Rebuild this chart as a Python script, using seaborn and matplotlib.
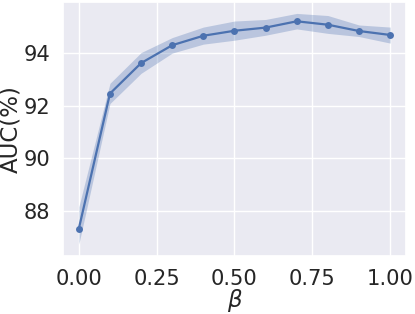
import matplotlib
matplotlib.use("Agg")
import matplotlib.pyplot as plt
import seaborn as sns
import pandas as pd

# beta-Werte und AUC (Mittelwert + Band)
beta = [0.0, 0.1, 0.2, 0.3, 0.4, 0.5, 0.6, 0.7, 0.8, 0.9, 1.0]
auc_mean = [87.32, 92.46, 93.62, 94.30, 94.66, 94.85, 94.97, 95.21, 95.08, 94.84, 94.69]
auc_lower = [86.73, 92.08, 93.23, 94.00, 94.34, 94.49, 94.68, 94.92, 94.75, 94.63, 94.38]
auc_upper = [88.15, 92.85, 94.02, 94.59, 94.99, 95.22, 95.28, 95.51, 95.43, 95.07, 94.99]

sns.set_theme(style="darkgrid", font_scale=1.375)

df = pd.DataFrame({"beta": beta, "AUC": auc_mean})

fig, ax = plt.subplots(figsize=(4.15, 3.14), dpi=100)
color = sns.color_palette()[0]
ax.fill_between(beta, auc_lower, auc_upper, color=color, alpha=0.3, linewidth=0)
sns.lineplot(data=df, x="beta", y="AUC", marker="o", markersize=5,
             markeredgewidth=0, color=color, linewidth=1.6, ax=ax)

ax.set_xlabel(r"$\beta$", labelpad=-1.5)
ax.set_ylabel("AUC(%)", labelpad=0.5)
ax.set_yticks([88, 90, 92, 94])
ax.set_xticks([0.0, 0.25, 0.5, 0.75, 1.0])

fig.subplots_adjust(left=0.1525, right=0.9776, top=0.994, bottom=0.186)
plt.savefig("out.png", dpi=100)
plt.close()
